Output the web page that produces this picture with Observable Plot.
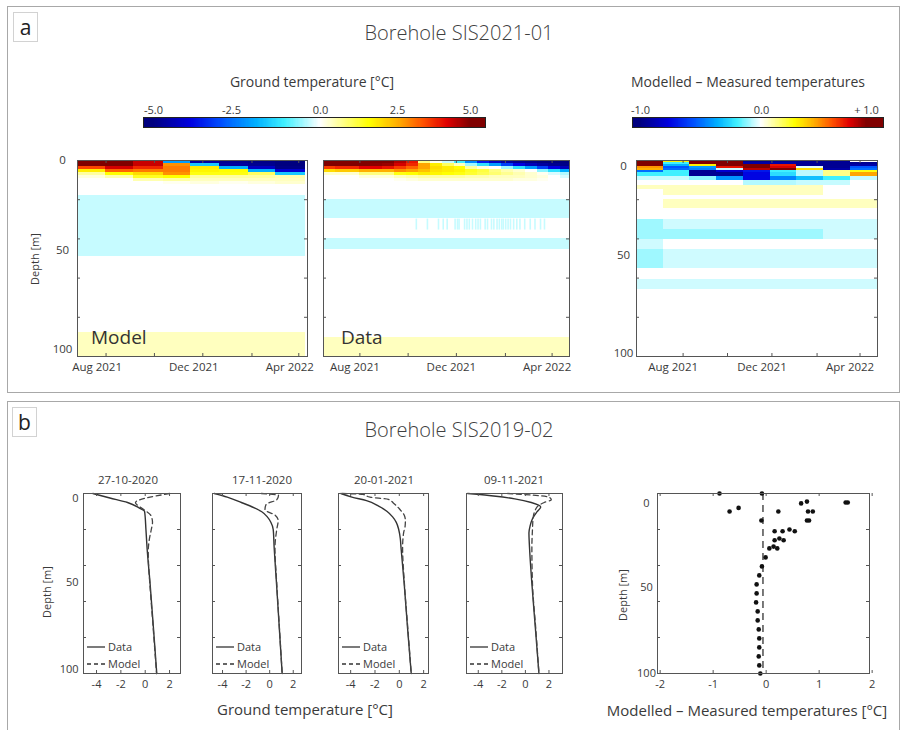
<!DOCTYPE html>
<html>
<head>
<meta charset="utf-8">
<script src="https://cdn.jsdelivr.net/npm/d3@7"></script>
<script src="https://cdn.jsdelivr.net/npm/@observablehq/plot@0.6"></script>
<style>
  html,body{margin:0;padding:0;background:#fff;}
  #fig{position:relative;width:901px;height:730px;overflow:hidden;font-family:"Open Sans","DejaVu Sans",sans-serif;color:#3a3a3a;}
  .abs{position:absolute;}
  .txt{position:absolute;white-space:nowrap;line-height:1;}
  .panel{position:absolute;border:1.5px solid #a8a8a8;box-sizing:border-box;}
  .tag{position:absolute;border:1px solid #d2d2d2;box-sizing:border-box;font-size:21px;line-height:28px;text-align:center;color:#222;}
</style>
</head>
<body>
<div id="fig"></div>
<script>
// ================= DATA =================
// ---- Panel a : model heatmap (columns = model output periods) ----
const modelColStarts = ["2021-06-26","2021-07-31","2021-09-05","2021-10-12","2021-11-16","2021-12-22","2022-01-27","2022-03-03"];
const modelColEnd = "2022-04-09";
const modelLayerDepths = [0,1.5,3,4.5,6,7.5,9,10.5,12,18,49,88,100];
const modelRows = [
  [5.5, 5.3, 4.4, -2.0, -4.6, -4.8, -4.9, -5.0],
  [5.0, 5.1, 4.4,  2.8, -1.5, -4.6, -4.8, -5.0],
  [3.5, 4.3, 3.8,  3.0,  1.8, -1.8, -4.2, -4.9],
  [1.8, 3.2, 3.0,  3.0,  1.7,  1.6, -1.8, -4.0],
  [0.6, 1.6, 2.0,  2.8,  1.5,  1.5,  1.0, -1.5],
  [0.2, 0.5, 1.4,  1.6,  0.6,  0.6,  0.6,  0.5],
  [0.0, 0.0, 0.5,  0.6,  0.4,  0.4,  0.4,  0.4],
  [0.0, 0.0, 0.0,  0.1,  0.2,  0.1,  0.2,  0.3],
  [0, 0, 0, 0, 0, 0, 0, 0],
  [-0.3, -0.3, -0.3, -0.3, -0.3, -0.3, -0.3, -0.3],
  [0, 0, 0, 0, 0, 0, 0, 0],
  [0.4, 0.4, 0.4, 0.4, 0.4, 0.4, 0.4, 0.4]
];

// ---- Panel a : measured heatmap ----
const dataColStarts = ["2021-06-16","2021-07-01","2021-07-16","2021-07-31","2021-08-15","2021-08-30","2021-09-14","2021-09-29","2021-10-14","2021-10-29","2021-11-13","2021-11-28","2021-12-13","2021-12-28","2022-01-12","2022-01-27","2022-02-11","2022-02-26","2022-03-13","2022-03-28","2022-04-12"];
const dataColEnd = "2022-04-23";
const dataLayerDepths = [0,1.5,3,4.5,6,7.5,9,10.5,12];
const dataRows = [
  [5.3,5.3,5.3,5.3,5.2,5.0,4.6,4.0,0.8,0.1,-0.3,-1.0,-2.2,-3.5,-4.2,-4.6,-4.8,-4.9,-5.0,-5.0,-5.0],
  [5.0,5.0,5.0,5.0,4.9,4.8,4.3,3.8,2.6,1.8,1.0,0.4,-0.5,-1.2,-2.0,-3.0,-3.8,-4.3,-4.6,-4.8,-4.9],
  [3.6,3.8,3.8,4.2,4.2,4.0,3.6,3.2,2.6,2.0,1.8,1.6,0.6,0.2,0.0,-0.5,-1.2,-2.0,-3.0,-3.8,-4.3],
  [2.0,2.2,2.2,2.5,2.5,2.5,2.8,2.6,2.3,1.9,1.8,1.7,1.4,1.2,0.8,0.5,0.3,0.0,-0.6,-1.2,-1.8],
  [0.3,0.3,0.3,0.8,0.8,0.8,1.5,1.6,1.8,1.7,1.6,1.5,1.3,1.1,0.9,0.7,0.5,0.3,0.1,-0.2,-0.4],
  [0,0,0,0.2,0.2,0.2,0.4,0.5,0.6,0.6,0.6,0.6,0.5,0.5,0.4,0.4,0.4,0.3,0.2,0,-0.2],
  [0,0,0,0,0,0,0.1,0.2,0.3,0.3,0.3,0.3,0.3,0.3,0.3,0.3,0.2,0.2,0.1,0,0],
  [0,0,0,0,0,0,0,0,0,0,0,0,0,0,0,0,0,0,0,0,0]
];
const dataDeepDepths = [12,19.8,29.5,40,45.4,90.4,100];
const dataDeepValues = [0,-0.3,0,-0.3,0,0.4];
const streakTop = 29.9, streakBottom = 35.5, streakValue = -0.3;
const streakDays = [117,131,145,151,156,166,169,171,178,181,184,188,192,195,198,204,207,212,215,219,222,225,227,230,233,236,240,244,248,254,261,267,274,279]; // days after 2021-06-16

// ---- Panel a : modelled - measured heatmap ----
const diffColStarts = ["2021-05-29","2021-07-05","2021-08-10","2021-09-16","2021-10-23","2021-11-29","2022-01-04","2022-02-10","2022-03-19"];
const diffColEnd = "2022-04-25";
const diffLayerDepths = [0,0.5,1,2,3,4,5,6,7,8,9,10.2,12.6,15,17.7,20,24.6,30.2,35.4,40.5,45.5,55.1,60.6,65.9,100];
const diffRows = [
  [1.0, 0.55, 1.0, 1.0, -0.95, -0.95, -0.95, -0.95, 1.0],
  [1.0, 0.35, 1.0, 1.0, -0.95, -0.95, -0.95, -0.95, 0.0],
  [1.0, -0.2, 1.0, 1.0, -0.9, -0.9, -0.95, -0.95, -0.95],
  [1.0, -0.35, 0.35, 1.0, 1.0, 0.8, -0.95, -0.95, -0.9],
  [0.55, -0.55, -0.4, 0.8, 1.0, 0.85, -0.03, -0.95, -0.55],
  [0.5, -0.5, -0.45, -0.05, 0.9, 1.0, 0.4, -0.9, -0.5],
  [-0.5, -0.2, -0.95, -0.8, -0.7, -0.2, -0.07, 0.15, 0.3],
  [-0.2, -0.2, -0.95, -0.95, -0.75, -0.25, -0.07, 0.15, 0.52],
  [-0.2, -0.2, -0.95, -0.95, -0.75, -0.25, -0.07, 0.15, 0.52],
  [-0.06, -0.06, -0.12, -0.42, -0.75, -0.45, -0.32, -0.2, -0.06],
  [-0.06, -0.06, -0.12, -0.42, -0.75, -0.45, -0.32, -0.2, -0.06],
  [0, 0, 0, 0, -0.08, -0.08, -0.06, -0.06, 0],
  [0.08, 0.08, 0.08, 0.08, 0.08, 0.08, 0.08, 0, 0],
  [0, 0.08, 0.08, 0.08, 0.08, 0.08, 0.08, 0, 0],
  [0, 0, 0, 0, 0, 0, 0, 0, 0],
  [0, 0.08, 0.08, 0.08, 0.08, 0.08, 0.08, 0.08, 0.08],
  [0, 0, 0, 0, 0, 0, 0, 0, 0],
  [-0.1, -0.05, -0.05, -0.05, -0.05, -0.05, -0.05, -0.05, -0.05],
  [-0.1, -0.1, -0.1, -0.1, -0.1, -0.1, -0.1, -0.05, -0.05],
  [-0.05, 0, 0, 0, 0, 0, 0, 0, 0],
  [-0.1, -0.05, -0.05, -0.05, -0.05, -0.05, -0.05, -0.05, -0.05],
  [0, 0, 0, 0, 0, 0, 0, 0, 0],
  [-0.05, -0.05, -0.05, -0.05, -0.05, -0.05, -0.05, -0.05, -0.05],
  [0, 0, 0, 0, 0, 0, 0, 0, 0]
];

// ---- axis tick values / labels ----
const monthTicks = ["2021-08-01","2021-10-01","2021-12-01","2022-02-01","2022-04-01"];
const monthLabels = ["2021-08-01","2021-12-01","2022-04-01"];
const depthLabels = [0, 50, 100];
const depthTicks = [20, 40, 60, 80];
const tempBarTicks = [-5, -2.5, 0, 2.5, 5];
const tempBarLabels = ["-5.0", "-2.5", "0.0", "2.5", "5.0"];
const diffBarTicks = [-1, 0, 1];
const diffBarLabels = ["-1.0", "0.0", "+ 1.0"];

// ---- Panel b : profiles [depth m, temperature °C] ----
const profileDates = ["27-10-2020", "17-11-2020", "20-01-2021", "09-11-2021"];
const obs1 = [[0,-4.3],[2.5,-2.9],[5,-1.45],[8,-0.5],[10,-0.05],[20,0.06],[30,0.15],[50,0.4],[75,0.68],[100,0.95]];
const mod1 = [[0,2.0],[5,-0.8],[9,-0.1],[12,0.45],[16,0.6],[20,0.5],[25,0.35],[32,0.25],[40,0.28],[50,0.38],[75,0.66],[100,0.93]];
const obs2 = [[0,-4.7],[2,-3.6],[5,-2.4],[8,-1.3],[10,-0.7],[13,-0.2],[16,0.1],[20,0.3],[30,0.38],[50,0.58],[75,0.82],[100,1.06]];
const mod2 = [[0,-0.7],[1,0.75],[3.5,0.6],[6,-0.3],[9,-0.4],[12,0.45],[15,0.72],[20,0.6],[30,0.45],[50,0.6],[75,0.83],[100,1.06]];
const obs3 = [[0,-4.8],[2,-3.9],[4,-2.7],[7,-1.7],[10,-1.0],[13,-0.55],[16,-0.25],[20,-0.05],[25,0.08],[30,0.14],[50,0.4],[75,0.68],[100,0.98]];
const mod3 = [[0,-4.7],[0.5,-3.0],[2,-2.4],[3.3,-0.9],[5.5,-0.45],[8.5,0],[12,0.4],[15,0.5],[18,0.48],[22,0.35],[30,0.27],[50,0.42],[75,0.7],[100,0.98]];
const obs4 = [[0,-4.9],[1.5,-2.5],[3,-0.9],[5,0.5],[7.5,1.3],[10,1.0],[14,0.6],[18,0.4],[22,0.3],[30,0.35],[50,0.55],[75,0.85],[100,1.15]];
const mod4 = [[0,-1.5],[2,2.0],[3.5,2.2],[5,1.6],[6.5,1.15],[9,0.85],[14,0.65],[20,0.6],[30,0.55],[50,0.6],[75,0.88],[100,1.15]];
const profileTicks = [-4, -2, 0, 2];

// ---- Panel b : modelled - measured differences [°C, depth m] ----
const diffPoints = [[-0.88,0],[-0.08,0],[-0.69,10],[-0.52,8],[0.23,10],[0.66,5.5],[0.77,4.5],[1.50,5],[1.54,5],[0.79,10],[0.88,10],[-0.09,15],[0.77,15],[0.81,15],[0.16,21],[0.31,21],[0.44,20],[0.54,21],[0.16,26],[0.25,25],[0.33,26],[0.06,30.5],[0.14,29.5],[0.21,30.5],[-0.01,35.5],[-0.08,40.5],[-0.13,45.5],[-0.18,50.5],[-0.18,55.5],[-0.19,60.5],[-0.16,65.5],[-0.16,70.5],[-0.14,75.5],[-0.13,80.5],[-0.13,85.5],[-0.14,90.5],[-0.13,95.5],[-0.11,100]];
const diffRefLine = -0.06;
const diffTicks = [-2, -1, 0, 1, 2];

// ================= RENDERING =================
const fig = document.getElementById("fig");
const FONT = '"Open Sans","DejaVu Sans",sans-serif';
const INK = "#3a3a3a", FRAME = "#555";
const cmapT = [0,0.12,0.22,0.32,0.4,0.5,0.6,0.66,0.75,0.84,0.92,1];
const cmapC = ["#00007f","#0000e0","#0050ff","#00b0ff","#40f0ff","#ffffff","#ffff60","#ffff00","#ffb000","#ff5000","#e00000","#800000"];
const colorScale = (lo, hi) => ({type: "linear", domain: cmapT.map(t => lo + (hi - lo) * t), range: cmapC, clamp: true});

function put(el, left, top, w, h) {
  const d = document.createElement("div");
  d.className = "abs";
  d.style.left = left + "px"; d.style.top = top + "px";
  if (w) d.style.width = w + "px";
  if (h) d.style.height = h + "px";
  d.appendChild(el); fig.appendChild(d); return d;
}
function text(str, x, y, {size = 12, anchor = "middle", rotate = 0, weight = 400, color = INK} = {}) {
  const d = document.createElement("div");
  d.className = "txt"; d.textContent = str;
  d.style.left = x + "px"; d.style.top = y + "px";
  d.style.fontSize = size + "px"; d.style.fontWeight = weight; d.style.color = color;
  const tx = anchor === "start" ? "0" : anchor === "end" ? "-100%" : "-50%";
  d.style.transform = `translate(${tx},-50%)` + (rotate ? ` rotate(${rotate}deg)` : "");
  fig.appendChild(d);
}
function box(cls, l, t, w, h, txt) {
  const d = document.createElement("div");
  d.className = cls; d.style.left = l + "px"; d.style.top = t + "px";
  d.style.width = w + "px"; d.style.height = h + "px";
  if (txt) d.textContent = txt;
  fig.appendChild(d);
}
const D = s => new Date(s);
function gridCells(colStarts, colEnd, depths, rows) {
  const xs = [...colStarts.map(D), D(colEnd)];
  const cells = [];
  rows.forEach((row, i) => row.forEach((v, j) => cells.push({x1: xs[j], x2: xs[j + 1], y1: depths[i], y2: depths[i + 1], v})));
  return cells;
}
function boxTicks(fw, fh, xTicks, yTicks, len = 3) {
  const o = {stroke: FRAME, strokeWidth: 1};
  return [
    Plot.tickX(xTicks, {x: d => d, insetTop: fh - len, ...o}),
    Plot.tickX(xTicks, {x: d => d, insetBottom: fh - len, ...o}),
    Plot.tickY(yTicks, {y: d => d, insetRight: fw - len, ...o}),
    Plot.tickY(yTicks, {y: d => d, insetLeft: fw - len, ...o})
  ];
}
function yLabels(vals, dys, dx, anchor, size) {
  return vals.map((v, i) => Plot.text([v], {y: d => d, text: d => String(d), frameAnchor: "left", textAnchor: anchor, dx, dy: dys[i], fontSize: size}));
}
function framed({frame: [L, T, R, B], x, y, color, marks, m = {l: 45, r: 8, t: 8, b: 28}, fontSize = 11}) {
  const width = R - L + m.l + m.r, height = B - T + m.t + m.b;
  const svg = Plot.plot({
    width, height, marginLeft: m.l, marginRight: m.r, marginTop: m.t, marginBottom: m.b,
    x: {...x, axis: null}, y: {...y, axis: null}, color, marks,
    style: {fontFamily: FONT, fontSize: fontSize + "px", color: INK, background: "transparent", overflow: "visible"}
  });
  put(svg, L - m.l, T - m.t, width, height);
}

// ---------- panel frames ----------
box("panel", 7, 6, 893, 387);
box("panel", 7, 401, 893, 345);
box("tag", 13, 12, 25, 30, "a");
box("tag", 12, 407, 25, 30, "b");

// ---------- panel a texts ----------
text("Borehole SIS2021-01", 459, 33, {size: 20, weight: 300, color: "#404040"});
text("Ground temperature [°C]", 312, 82, {size: 14});
text("Modelled – Measured temperatures", 748, 82, {size: 14});

// ---------- colorbars ----------
function colorbar({L, R, T, B, lo, hi, scaleLo, scaleHi, ticks, labels, tickPx}) {
  const m = {l: 12, r: 12, t: 22, b: 2};
  const off = L - m.l;
  const n = 300;
  const steps = d3.range(n).map(i => ({a: lo + (hi - lo) * i / n, b: lo + (hi - lo) * (i + 1) / n}));
  const width = R - L + m.l + m.r, height = B - T + m.t + m.b;
  const svg = Plot.plot({
    width, height, marginLeft: m.l, marginRight: m.r, marginTop: m.t, marginBottom: m.b,
    x: {type: "linear", domain: [lo, ...ticks, hi], range: [L, ...tickPx, R].map(p => p - off), axis: null},
    color: colorScale(scaleLo, scaleHi),
    marks: [
      Plot.rect(steps, {x1: "a", x2: "b", fill: d => (d.a + d.b) / 2, shapeRendering: "crispEdges"}),
      Plot.frame({stroke: "#222", strokeWidth: 1}),
      Plot.text(ticks, {x: d => d, text: (d, i) => labels[i], frameAnchor: "top", dy: -11, fontSize: 11})
    ],
    style: {fontFamily: FONT, fontSize: "11px", color: INK, background: "transparent", overflow: "visible"}
  });
  put(svg, off, T - m.t, width, height);
}
colorbar({L: 143, R: 485, T: 117, B: 127, lo: -5.32, hi: 5.51, scaleLo: -5, scaleHi: 5, ticks: tempBarTicks, labels: tempBarLabels, tickPx: [153, 231, 320, 397, 470]});
colorbar({L: 632, R: 883, T: 117, B: 127, lo: -1.07, hi: 1.165, scaleLo: -1, scaleHi: 1, ticks: diffBarTicks, labels: diffBarLabels, tickPx: [640, 761, 866]});

// ---------- heatmaps ----------
const fmtMonth = d3.utcFormat("%b %Y");
function heatmap({frame, xDomain, cells, extraMarks = [], lo, hi, ylab, labelDx}) {
  const [L, T, R, B] = frame;
  const fw = R - L, fh = B - T;
  const marks = [
    Plot.rect(cells, {x1: "x1", x2: "x2", y1: "y1", y2: "y2", fill: "v", shapeRendering: "crispEdges"}),
    ...extraMarks,
    Plot.frame({stroke: FRAME, strokeWidth: 1}),
    ...boxTicks(fw, fh, monthTicks.map(D), depthTicks),
    Plot.text(monthLabels.map(D), {x: d => d, text: d => fmtMonth(d), frameAnchor: "bottom", dy: 14, dx: labelDx, fontSize: 11.5})
  ];
  if (ylab) marks.push(...yLabels(depthLabels, ylab.dys, ylab.dx, "middle", 11.5));
  framed({frame, x: {type: "utc", domain: xDomain.map(D)}, y: {domain: [0, 100], reverse: true}, color: colorScale(lo, hi), marks});
}

// model
heatmap({
  frame: [77, 160, 307, 356], xDomain: ["2021-06-26", "2022-04-12"],
  cells: gridCells(modelColStarts, modelColEnd, modelLayerDepths, modelRows),
  lo: -5, hi: 5, ylab: {dys: [0, -8, -7], dx: -15}, labelDx: -9
});
// data
const dataStart = D(dataColStarts[0]);
const dataCells = gridCells(dataColStarts, dataColEnd, dataLayerDepths, dataRows);
dataDeepValues.forEach((v, i) => dataCells.push({x1: dataStart, x2: D(dataColEnd), y1: dataDeepDepths[i], y2: dataDeepDepths[i + 1], v}));
const streaks = streakDays.map(dd => ({x1: d3.utcHour.offset(dataStart, dd * 24), x2: d3.utcHour.offset(dataStart, dd * 24 + 48), y1: streakTop, y2: streakBottom, v: streakValue}));
heatmap({
  frame: [323, 160, 569, 356], xDomain: ["2021-06-16", "2022-04-23"],
  cells: dataCells,
  extraMarks: [Plot.rect(streaks, {x1: "x1", x2: "x2", y1: "y1", y2: "y2", fill: "v"})],
  lo: -5, hi: 5, labelDx: -5
});
// difference
heatmap({
  frame: [636, 160, 877, 356], xDomain: ["2021-05-29", "2022-04-25"],
  cells: gridCells(diffColStarts, diffColEnd, diffLayerDepths, diffRows),
  lo: -1, hi: 1, ylab: {dys: [6, -3, -3], dx: -13}, labelDx: -10
});
text("Depth [m]", 34, 259, {size: 11, rotate: -90});
text("Model", 91, 337, {size: 19, anchor: "start", color: "#333"});
text("Data", 341, 337, {size: 19, anchor: "start", color: "#333"});

// ---------- panel b ----------
text("Borehole SIS2019-02", 459, 430, {size: 20, weight: 300, color: "#404040"});
const profiles = [
  {frame: [83, 493, 180, 673], dom: [-5.07, 2.9], obs: obs1, mod: mod1, tx: 128},
  {frame: [212, 493, 301, 673], dom: [-4.85, 2.7], obs: obs2, mod: mod2, tx: 262},
  {frame: [338, 493, 428, 673], dom: [-5.0, 2.4], obs: obs3, mod: mod3, tx: 384},
  {frame: [466, 493, 562, 673], dom: [-5.0, 3.15], obs: obs4, mod: mod4, tx: 514}
];
profiles.forEach((p, k) => {
  const [L, T, R, B] = p.frame;
  const marks = [
    Plot.line(p.obs, {x: d => d[1], y: d => d[0], stroke: "#333", strokeWidth: 1.4, curve: "monotone-y"}),
    Plot.line(p.mod, {x: d => d[1], y: d => d[0], stroke: "#444", strokeWidth: 1.3, strokeDasharray: "5,3.5", curve: "monotone-y"}),
    Plot.frame({stroke: FRAME, strokeWidth: 1}),
    ...boxTicks(R - L, B - T, profileTicks, depthTicks),
    Plot.text(profileTicks, {x: d => d, text: d => String(d), frameAnchor: "bottom", dy: 14, fontSize: 11})
  ];
  if (k === 0) marks.push(...yLabels(depthLabels, [5, -1, -4], -5, "end", 11));
  framed({frame: p.frame, x: {domain: p.dom}, y: {domain: [0, 100], reverse: true}, marks});
  text(profileDates[k], p.tx, 480, {size: 11.5});
  // legend
  const lg = d3.create("svg").attr("width", 80).attr("height", 30).style("overflow", "visible");
  lg.append("line").attr("x1", 0).attr("x2", 18).attr("y1", 7).attr("y2", 7).attr("stroke", "#333").attr("stroke-width", 1.3);
  lg.append("line").attr("x1", 0).attr("x2", 18).attr("y1", 24).attr("y2", 24).attr("stroke", "#333").attr("stroke-width", 1.3).attr("stroke-dasharray", "4,3");
  lg.append("text").attr("x", 21).attr("y", 7).attr("dy", "0.35em").attr("font-size", 11).attr("font-family", FONT).attr("fill", INK).text("Data");
  lg.append("text").attr("x", 21).attr("y", 24).attr("dy", "0.35em").attr("font-size", 11).attr("font-family", FONT).attr("fill", INK).text("Model");
  put(lg.node(), L + 4, 640, 80, 30);
});
text("Depth [m]", 46, 592, {size: 11, rotate: -90});
text("Ground temperature [°C]", 305, 709, {size: 15});

// scatter
framed({
  frame: [657, 493, 869, 673], x: {domain: [-2.05, 1.95]}, y: {domain: [0, 100], reverse: true},
  marks: [
    Plot.ruleX([diffRefLine], {y1: 0, y2: 100, stroke: "#333", strokeWidth: 1.3, strokeDasharray: "7,5"}),
    Plot.dot(diffPoints, {x: d => d[0], y: d => d[1], r: 2.3, fill: "#111", stroke: "none"}),
    Plot.frame({stroke: FRAME, strokeWidth: 1}),
    ...boxTicks(212, 180, diffTicks, depthTicks),
    Plot.text(diffTicks, {x: d => d, text: d => String(d), frameAnchor: "bottom", dy: 14, fontSize: 11}),
    ...yLabels(depthLabels, [10, 4, 0], -11, "middle", 11)
  ]
});
text("Depth [m]", 622, 595, {size: 11, rotate: -90});
text("Modelled – Measured temperatures [°C]", 747, 710, {size: 15});
</script>
</body>
</html>
